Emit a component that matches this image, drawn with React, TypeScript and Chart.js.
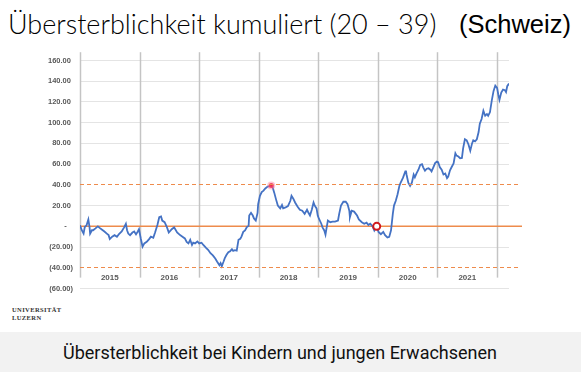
import React, { useEffect, useRef } from "react";
import { Chart, registerables } from "chart.js";
Chart.register(...registerables);

// ---- data ----
const yearLabels = ["2015", "2016", "2017", "2018", "2019", "2020", "2021"];
const yearBounds = [2015, 2016, 2017, 2018, 2019, 2020, 2021, 2022];
const yTickValues = [-60, -40, -20, 0, 20, 40, 60, 80, 100, 120, 140, 160];
const refDashed = [-40, 40];
const refSolid = 0;

// week positions (decimal year offsets since 2015) and cumulative excess mortality
const weekOffsets = [
  0, 0.03, 0.06, 0.08, 0.11, 0.14, 0.16, 0.17, 0.2, 0.22, 0.26, 0.3, 0.34, 0.36, 0.41, 0.45, 0.48,
  0.5, 0.54, 0.58, 0.62, 0.65, 0.7, 0.74, 0.77, 0.79, 0.81, 0.84, 0.88, 0.91, 0.94, 0.97, 0.99,
  1.02, 1.05, 1.08, 1.12, 1.16, 1.19, 1.23, 1.26, 1.3, 1.33, 1.36, 1.38, 1.42, 1.46, 1.49, 1.54,
  1.58, 1.63, 1.68, 1.72, 1.76, 1.79, 1.82, 1.85, 1.88, 1.9, 1.93, 1.97, 2.0, 2.04, 2.07, 2.12,
  2.15, 2.19, 2.23, 2.27, 2.3, 2.34, 2.36, 2.38, 2.41, 2.43, 2.46, 2.49, 2.52, 2.55, 2.57, 2.6,
  2.63, 2.66, 2.69, 2.71, 2.74, 2.77, 2.8, 2.83, 2.84, 2.87, 2.9, 2.92, 2.95, 2.98, 2.99, 3.02,
  3.05, 3.08, 3.11, 3.15, 3.19, 3.21, 3.23, 3.26, 3.29, 3.32, 3.36, 3.39, 3.41, 3.45, 3.49, 3.53,
  3.55, 3.58, 3.61, 3.65, 3.69, 3.73, 3.77, 3.81, 3.83, 3.86, 3.89, 3.92, 3.94, 3.97, 3.99, 4.01,
  4.05, 4.07, 4.1, 4.12, 4.14, 4.16, 4.2, 4.24, 4.28, 4.33, 4.35, 4.38, 4.42, 4.46, 4.49, 4.52,
  4.53, 4.56, 4.6, 4.65, 4.68, 4.73, 4.77, 4.81, 4.84, 4.87, 4.91, 4.94, 4.98, 5.01, 5.05, 5.09,
  5.12, 5.16, 5.19, 5.22, 5.25, 5.27, 5.3, 5.33, 5.36, 5.38, 5.42, 5.46, 5.47, 5.48, 5.51, 5.54,
  5.57, 5.6, 5.62, 5.65, 5.68, 5.71, 5.74, 5.76, 5.79, 5.82, 5.85, 5.88, 5.9, 5.93, 5.96, 5.99,
  6.01, 6.04, 6.07, 6.1, 6.13, 6.16, 6.18, 6.21, 6.24, 6.27, 6.3, 6.32, 6.35, 6.38, 6.41, 6.43,
  6.46, 6.49, 6.52, 6.55, 6.58, 6.6, 6.63, 6.66, 6.69, 6.71, 6.74, 6.77, 6.8, 6.83, 6.85, 6.88,
  6.91, 6.94, 6.97, 7.0, 7.02, 7.04, 7.07, 7.1, 7.13, 7.15, 7.17, 7.2,
];
const excessValues = [
  1, -3.8, -7, -0.7, 1, 6.6, -0.7, -7, -3.8, -3.8, -2, 0, -2, -2.8, -5, -7, -8.5,
  -12.3, -10, -8.5, -10, -7.8, -5, -1, 2.5, -3.8, -7, -8.5, -6, -5, -7.8, -5, -2.8,
  -11.7, -19.6, -16.5, -15, -12.3, -10, -11, -6, 1.5, 8.8, 9.5, 5.5, 4, -1, -6, -2.8,
  -1, -6, -8.5, -10, -11.7, -15, -16.5, -13, -18, -15.8, -16.5, -14.6, -16.5, -15.8, -18, -21,
  -22.7, -26, -28, -31, -34, -37.6, -35.5, -38.5, -34, -30.7, -27.5, -25, -24, -22, -23.7, -23,
  -23.5, -13, -12, -10, -5.4, -4, -0.7, 0.6, 10.4, 13, 10.4, 7.6, 5.5, 13, 21.4, 29.4,
  33, 34.5, 36.5, 38.3, 38.9, 39.5, 38.3, 32.5, 26, 20, 17.3, 20.5, 17.3, 18.2, 19.6, 24.6,
  29.4, 26.7, 23, 19.2, 16, 15, 12, 16, 13.6, 10.4, 16, 23, 19.9, 17.3, 10.4, 7.3,
  2.5, -1, -4, -8, -1, 5.6, 4, 4.5, 4.5, 5.6, 12, 20, 23.7, 23.7, 21.4, 15,
  8.8, 15, 14.2, 10.4, 6.6, 4, 2.5, 3.5, 1.3, 2.5, 0, -4, 0, -5.4, -7.6, -5.4,
  -8.5, -10.8, -10.2, -3.8, 12, 20, 24.6, 31, 38.9, 42, 46.7, 53, 53.7, 50, 42, 38.9,
  42, 49.9, 47.4, 51.4, 54.6, 59.3, 60, 56.9, 53.7, 55.6, 56, 54.6, 53, 56.9, 61, 62.5,
  62, 57, 54.6, 50, 51, 46.5, 48, 54, 57.5, 60.6, 70.4, 68.2, 67.3, 65.7, 66, 75.2,
  84, 83, 79, 73, 80, 83, 82, 84, 91, 99, 103.6, 111.5, 106.7, 108.3, 106.7, 110,
  121, 130.4, 135.8, 133.6, 127.3, 122, 129, 132, 131.4, 129.5, 135.2, 137.7,
];

const highlightPoint = { x: 3.21, y: 39.5 };
const ringPoint = { x: 4.98, y: 0 };

const BLUE = "#4472C4";
const ORANGE = "#EE8B4C";

const overlayPlugin = {
  id: "overlay",
  beforeDatasetsDraw(chart: any) {
    const { ctx, scales } = chart;
    const x = scales.x;
    const y = scales.y;
    ctx.save();
    // year separators
    ctx.strokeStyle = "#c4c4c4";
    ctx.lineWidth = 1.5;
    const top = y.getPixelForValue(168);
    const bot = y.getPixelForValue(-49.5);
    yearBounds.forEach((yr) => {
      const px = Math.round(x.getPixelForValue(yr - 2015)) + 0.5;
      ctx.beginPath();
      ctx.moveTo(px, top);
      ctx.lineTo(px, bot);
      ctx.stroke();
    });
    // solid zero line
    const left = x.getPixelForValue(0);
    ctx.strokeStyle = ORANGE;
    ctx.lineWidth = 1.5;
    const pz = y.getPixelForValue(refSolid);
    ctx.beginPath();
    ctx.moveTo(left, pz);
    ctx.lineTo(522, pz);
    ctx.stroke();
    // year labels
    ctx.fillStyle = "#595959";
    ctx.font = "bold 8px 'Liberation Sans', Arial, sans-serif";
    ctx.textAlign = "center";
    ctx.textBaseline = "middle";
    const ly = y.getPixelForValue(-49.8);
    yearLabels.forEach((lab, i) => {
      ctx.fillText(lab, x.getPixelForValue(yearBounds[i] - 2015 + 0.5), ly);
    });
    ctx.restore();
  },
  afterDatasetsDraw(chart: any) {
    const { ctx, scales } = chart;
    const x = scales.x;
    const y = scales.y;
    const left = x.getPixelForValue(0);
    ctx.save();
    refDashed.forEach((v) => {
      const py = Math.floor(y.getPixelForValue(v)) + 0.5;
      ctx.strokeStyle = ORANGE;
      ctx.lineWidth = 1.2;
      ctx.setLineDash([4, 3]);
      ctx.beginPath();
      ctx.moveTo(left, py);
      ctx.lineTo(520, py);
      ctx.stroke();
    });
    ctx.restore();
  },
};

function fmt(v: number): string {
  if (v === 0) return "-   ";
  if (v < 0) return "(" + Math.abs(v).toFixed(2) + ")";
  return v.toFixed(2) + " ";
}

export default function App() {
  const ref = useRef<HTMLCanvasElement | null>(null);
  useEffect(() => {
    if (!ref.current) return;
    const chart = new Chart(ref.current, {
      type: "line",
      data: {
        datasets: [
          {
            type: "scatter",
            data: [highlightPoint],
            pointRadius: 2.5,
            pointBackgroundColor: "#e62a55",
            pointBorderColor: "rgba(255,110,140,0.4)",
            pointBorderWidth: 3,
            order: 0,
          } as any,
          {
            type: "scatter",
            data: [ringPoint],
            pointRadius: 3.5,
            pointBackgroundColor: "#ffffff",
            pointBorderColor: "#d0191e",
            pointBorderWidth: 2,
            order: 0,
          } as any,
          {
            data: weekOffsets.map((w, i) => ({ x: w, y: excessValues[i] })),
            borderColor: BLUE,
            borderWidth: 1.8,
            pointRadius: 0,
            tension: 0,
            fill: false,
            order: 1,
          },
        ],
      },
      options: {
        animation: false,
        responsive: false,
        devicePixelRatio: 1,
        layout: { padding: { left: 0, right: 72, top: 60.5, bottom: 7.5 } },
        plugins: { legend: { display: false }, tooltip: { enabled: false } },
        scales: {
          x: { type: "linear", min: 0, max: 7.2, display: false },
          y: {
            min: -60,
            max: 160,
            afterFit(scale: any) {
              scale.width = 80;
            },
            afterBuildTicks(scale: any) {
              scale.ticks = yTickValues.map((v) => ({ value: v }));
            },
            border: { display: false },
            grid: {
              color: (c: any) => (c.tick && (c.tick.value === 40 || c.tick.value === -40) ? "rgba(0,0,0,0)" : "#e4e4e4"),
              lineWidth: 1,
              drawTicks: false,
            },
            ticks: {
              padding: 7,
              color: "#595959",
              font: { family: "'Liberation Sans', Arial, sans-serif", size: 7.5, weight: "bold" },
              callback: (v: any) => fmt(Number(v)),
            },
          },
        },
      },
      plugins: [overlayPlugin],
    });
    return () => chart.destroy();
  }, []);

  return (
    <div style={{ position: "fixed", left: 0, top: 0, width: 581, height: 372, background: "#fff", overflow: "hidden" }}>
      <div
        style={{
          position: "absolute",
          left: 8,
          top: 10,
          fontFamily: "Lato, 'Open Sans', sans-serif",
          fontWeight: 300,
          fontSize: 27,
          lineHeight: 1,
          color: "#000",
          whiteSpace: "nowrap",
        }}
      >
        Übersterblichkeit kumuliert (20 – 39)
      </div>
      <div
        style={{
          position: "absolute",
          left: 459,
          top: 12,
          fontFamily: "'Liberation Sans', Arial, sans-serif",
          fontSize: 25.5,
          lineHeight: 1,
          color: "#000",
          whiteSpace: "nowrap",
        }}
      >
        (Schweiz)
      </div>
      <canvas ref={ref} width={581} height={300} style={{ position: "absolute", left: 0, top: 0 }} />
      <div
        style={{
          position: "absolute",
          left: 12,
          top: 306,
          fontFamily: "'Liberation Serif', 'DejaVu Serif', serif",
          fontWeight: "bold",
          fontSize: 6.5,
          lineHeight: "8px",
          letterSpacing: 0.4,
          color: "#333",
        }}
      >
        UNIVERSITÄT
        <br />
        LUZERN
      </div>
      <div
        style={{
          position: "absolute",
          left: 0,
          top: 332,
          width: 581,
          height: 40,
          background: "#f2f2f2",
        }}
      />
      <div
        style={{
          position: "absolute",
          left: 0,
          top: 342,
          width: 560,
          textAlign: "center",
          fontFamily: "Roboto, sans-serif",
          fontSize: 18,
          lineHeight: "22px",
          color: "#111",
          whiteSpace: "nowrap",
        }}
      >
        Übersterblichkeit bei Kindern und jungen Erwachsenen
      </div>
    </div>
  );
}
